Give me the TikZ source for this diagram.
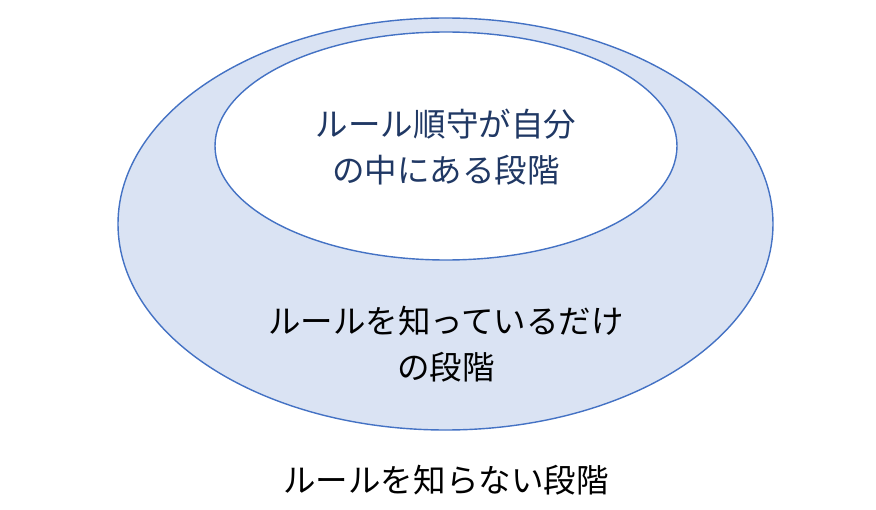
\documentclass[tikz,border=0pt]{standalone}
\usepackage{fontspec}
\setmainfont{Noto Sans CJK JP}
\definecolor{ringfill}{HTML}{DAE3F3}
\definecolor{ringline}{HTML}{4472C4}
\definecolor{innertext}{HTML}{203864}
\begin{document}
\begin{tikzpicture}[x=0.02cm, y=-0.02cm,
    stage/.style={draw=ringline, line width=0.8pt},
    stagetext/.style={font=\fontsize{18.5}{26}\selectfont, align=center}]
    \useasboundingbox (0,0) rectangle (876,510);

    % Outer ring
    \draw[stage, fill=ringfill] (445.5,224) ellipse (327.5 and 206);

    % Inner ring
    \draw[stage, fill=white] (446,146) ellipse (231 and 114);

    % Labels
    \node[stagetext, text=innertext] (inner) at (446,147) {ルール順守が自分\\の中にある段階};
    \node[stagetext] (middle) at (446,344) {ルールを知っているだけ\\の段階};
    \node[stagetext] (outside) at (446,480) {ルールを知らない段階};
\end{tikzpicture}
\end{document}
